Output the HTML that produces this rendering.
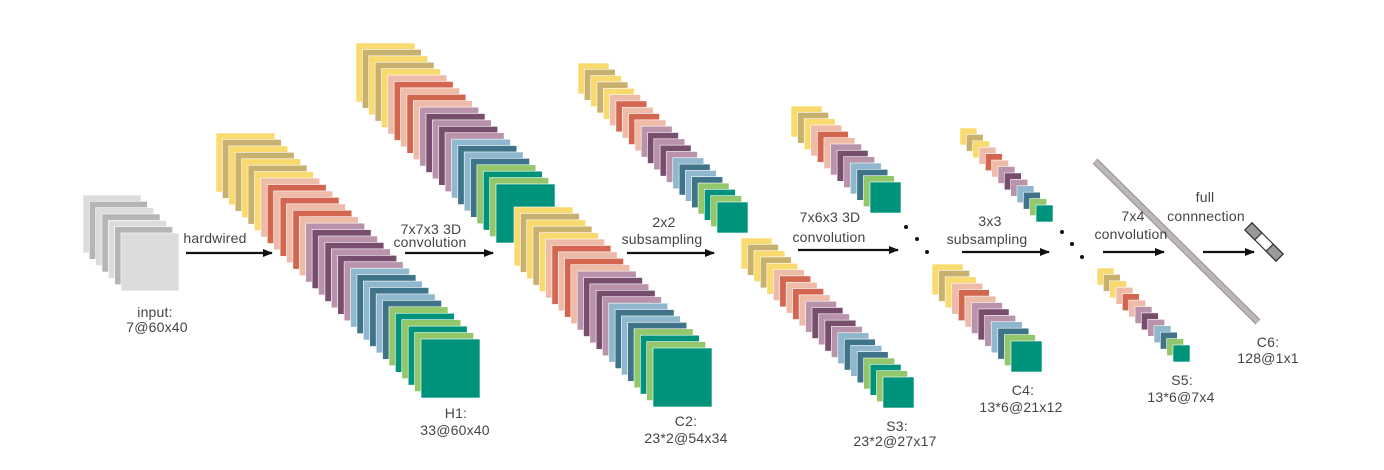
<!DOCTYPE html>
<html><head><meta charset="utf-8"><style>
html,body{margin:0;padding:0;background:#fff;}
body{width:1384px;height:465px;overflow:hidden;}
svg text{font-family:"Liberation Sans",sans-serif;font-size:14px;letter-spacing:0.2px;fill:#444;text-anchor:middle;}
</style></head><body>
<svg id="s" width="1384" height="465" viewBox="0 0 1384 465" xmlns="http://www.w3.org/2000/svg">
<defs><marker id="ah" markerWidth="10" markerHeight="8" refX="9" refY="4" orient="auto" markerUnits="userSpaceOnUse"><path d="M0,0 L10,4 L0,8 z" fill="#111"/></marker></defs>
<g id="stacks"></g>
<g stroke="#111" stroke-width="2.2" marker-end="url(#ah)">
<line x1="186" y1="253" x2="272" y2="253"/>
<line x1="405" y1="253" x2="493" y2="253"/>
<line x1="627" y1="253" x2="714" y2="253"/>
<line x1="798" y1="250" x2="898" y2="250"/>
<line x1="962" y1="252" x2="1049" y2="252"/>
<line x1="1103" y1="252" x2="1164" y2="252"/>
<line x1="1203" y1="252" x2="1254" y2="252"/>
</g>
<g fill="#111">
<circle cx="906" cy="227" r="2"/><circle cx="917" cy="239" r="2"/><circle cx="927" cy="252" r="2"/>
<circle cx="1062" cy="232" r="2"/><circle cx="1072" cy="244" r="2"/><circle cx="1082" cy="257" r="2"/>
</g>
<line x1="1095" y1="161" x2="1258" y2="322" stroke="#9e9898" stroke-width="7"/>
<line x1="1095" y1="161" x2="1258" y2="322" stroke="#bdb8b8" stroke-width="4.5"/>
<g transform="translate(1264,242) rotate(45)">
<rect x="-22" y="-5" width="44" height="10" fill="#fff" stroke="#333" stroke-width="1.2"/>
<rect x="-22" y="-5" width="14" height="10" fill="#9a9a9a" stroke="#333" stroke-width="1.2"/>
<rect x="8" y="-5" width="14" height="10" fill="#9a9a9a" stroke="#333" stroke-width="1.2"/>
</g>
<text x="215" y="243">hardwired</text>
<text x="431" y="234">7x7x3 3D</text><text x="430" y="247">convolution</text>
<text x="664" y="227">2x2</text><text x="662" y="244">subsampling</text>
<text x="830" y="222">7x6x3 3D</text><text x="829" y="242">convolution</text>
<text x="990" y="226">3x3</text><text x="987" y="244">subsampling</text>
<text x="1133" y="221">7x4</text><text x="1131" y="239">convolution</text>
<text x="1205" y="202">full</text><text x="1206" y="221">connnection</text>
<text x="155" y="317">input:</text><text x="157" y="332">7@60x40</text>
<text x="456" y="418">H1:</text><text x="455" y="435">33@60x40</text>
<text x="686" y="426">C2:</text><text x="686" y="443">23*2@54x34</text>
<text x="897" y="431">S3:</text><text x="895" y="446">23*2@27x17</text>
<text x="1023" y="395">C4:</text><text x="1021" y="412">13*6@21x12</text>
<text x="1182" y="385">S5:</text><text x="1181" y="402">13*6@7x4</text>
<text x="1268" y="347">C6:</text><text x="1268" y="363">128@1x1</text>
</svg>
<script>
var g=document.getElementById('stacks');
var pal=[['#f9da6e','#c8b06f'],['#efbba9','#d3664e'],['#b992ab','#784e6e'],['#8fb7cd','#3e7389'],['#93c76b','#00937b']];
function cols(n){var b=Math.floor(n/5),r=n%5,out=[];for(var k=0;k<5;k++){var s=b+(k<r?1:0);for(var j=0;j<s;j++)out.push(pal[k][j%2]);}return out;}
function stack(n,x0,y0,x1,y1,sz,c){
 var cs=c||cols(n);
 for(var i=0;i<n;i++){var t=n>1?i/(n-1):0;
  var r=document.createElementNS('http://www.w3.org/2000/svg','rect');
  r.setAttribute('x',x0+(x1-x0)*t);r.setAttribute('y',y0+(y1-y0)*t);
  r.setAttribute('width',sz);r.setAttribute('height',sz);r.setAttribute('fill',cs[i]);
  r.setAttribute('stroke','#fff');r.setAttribute('stroke-width','0.6');
  g.appendChild(r);}
}
var gr=[];for(var i=0;i<7;i++)gr.push(i%2?'#b5b5b5':'#dcdcdc');gr[6]='#dcdcdc';
stack(7,83,195,121,233,58,gr);
stack(33,216,133,421,339,59);
stack(23,356,43,496,184,59);
stack(23,514,207,653,348,59);
stack(23,578,63,717,202,31);
stack(23,741,238,883,377,31);
stack(13,791,106,870,182,31);
stack(13,932,264,1011,341,31);
stack(13,960,128,1036,205,17);
stack(13,1097,268,1173,345,17);
</script>
</body></html>
